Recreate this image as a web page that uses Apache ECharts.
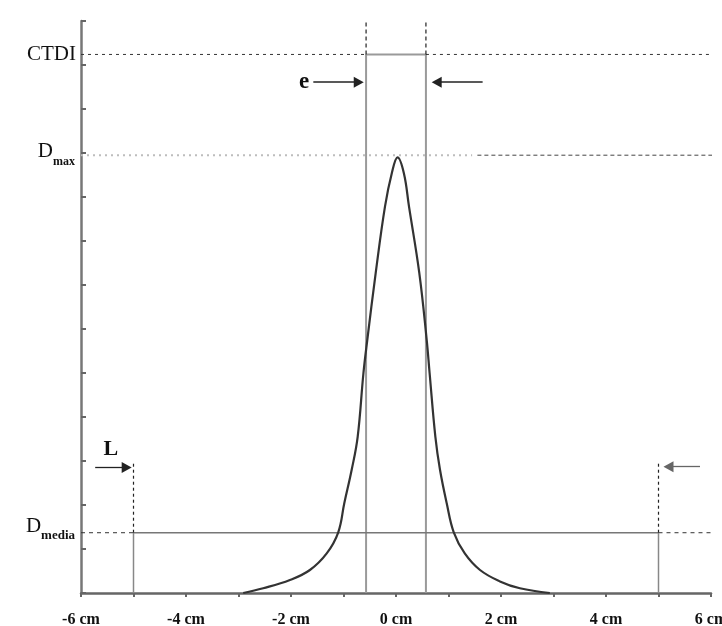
<!DOCTYPE html>
<html><head><meta charset="utf-8">
<script src="https://cdn.jsdelivr.net/npm/echarts@6/dist/echarts.min.js"></script>
<style>html,body{margin:0;padding:0;background:#fff;overflow:hidden}#c{width:722px;height:626px}</style>
</head><body><div id="c"></div>
<script>
// ---- data ----
const xTickLabels = {'-6':'-6 cm','-4':'-4 cm','-2':'-2 cm','0':'0 cm','2':'2 cm','4':'4 cm','6':'6 cm'};
const curveX = [-2.91,-2.53,-2.02,-1.64,-1.32,-1.10,-0.985,-0.844,-0.73,-0.62,-0.547,-0.387,-0.21,-0.08,0.03,0.15,0.248,0.444,0.585,0.64,0.75,0.838,0.966,1.10,1.31,1.60,1.98,2.36,2.93];
const curveY = [0,0.107,0.295,0.523,0.90,1.38,2.04,2.80,3.55,5.0,5.75,7.27,8.78,9.54,9.90,9.54,8.78,7.27,5.75,5.0,3.55,2.80,2.04,1.38,0.90,0.523,0.264,0.107,0];
const CTDI = 12.24, DMAX = 9.95, DMEDIA = 1.37;
const E_LEFT = -0.57, E_RIGHT = 0.57, E_TOP = 12.98;
const L_LEFT = -5, L_RIGHT = 5, L_TOP = 2.98;
const X_MIN = -6, X_EDGE = 6.25, DMEDIA_END = 6.05, DMAX_SPLIT = [1.45, 1.55];
const E_ARROW_Y = 11.61, E_LEFT_ARROW = [-1.575, -0.71], E_RIGHT_ARROW = [1.65, 0.775];
const L_LEFT_ARROW_Y = 2.85, L_RIGHT_ARROW_Y = 2.87, L_LEFT_ARROW = [-5.73, -5.13], L_RIGHT_ARROW = [5.79, 5.19];

const serif = '"Liberation Serif","DejaVu Serif",serif';
const curve = curveX.map((x, i) => [x, curveY[i]]);

function seg(points, color, width, type) {
  return {
    type: 'line', data: points, symbol: 'none', clip: false, silent: true, z: 2,
    lineStyle: { color: color, width: width, type: type || 'solid' }, animation: false
  };
}

const series = [
  // CTDI rectangle
  seg([[E_LEFT,0],[E_LEFT,CTDI],[E_RIGHT,CTDI],[E_RIGHT,0]], '#9a9a9a', 2),
  seg([[X_MIN,CTDI],[E_LEFT,CTDI]], '#333', 1, [3,4]),
  seg([[E_RIGHT,CTDI],[X_EDGE,CTDI]], '#333', 1, [3,4]),
  seg([[E_LEFT,CTDI],[E_LEFT,E_TOP]], '#222', 1.2, [4,3]),
  seg([[E_RIGHT,CTDI],[E_RIGHT,E_TOP]], '#222', 1.2, [4,3]),
  // Dmax
  seg([[X_MIN,DMAX],[DMAX_SPLIT[0],DMAX]], '#bdbdbd', 2, [2,4]),
  seg([[DMAX_SPLIT[1],DMAX],[X_EDGE,DMAX]], '#444', 1, [4,3]),
  // Dmedia
  seg([[X_MIN,DMEDIA],[L_LEFT,DMEDIA]], '#333', 1, [4,4]),
  seg([[L_LEFT,DMEDIA],[L_RIGHT,DMEDIA]], '#777', 1.5),
  seg([[L_RIGHT,DMEDIA],[DMEDIA_END,DMEDIA]], '#333', 1, [4,4]),
  // L verticals
  seg([[L_LEFT,0],[L_LEFT,DMEDIA]], '#888', 1.5),
  seg([[L_RIGHT,0],[L_RIGHT,DMEDIA]], '#888', 1.5),
  seg([[L_LEFT,DMEDIA],[L_LEFT,L_TOP]], '#222', 1.2, [3,3]),
  seg([[L_RIGHT,DMEDIA],[L_RIGHT,L_TOP]], '#222', 1.2, [3,3]),
  // curve with arrows and texts
  {
    type: 'line', data: curve, smooth: 0.4, symbol: 'none', z: 5, clip: false, animation: false,
    lineStyle: { color: '#333', width: 2.2 },
    markLine: {
      silent: true, symbol: ['none', 'triangle'], symbolSize: [11, 10], animation: false,
      label: { show: false },
      data: [
        [{ coord: [E_LEFT_ARROW[0], E_ARROW_Y], lineStyle: { color: '#222', width: 1.6, type: 'solid' } }, { coord: [E_LEFT_ARROW[1], E_ARROW_Y] }],
        [{ coord: [E_RIGHT_ARROW[0], E_ARROW_Y], lineStyle: { color: '#222', width: 1.6, type: 'solid' } }, { coord: [E_RIGHT_ARROW[1], E_ARROW_Y] }],
        [{ coord: [L_LEFT_ARROW[0], L_LEFT_ARROW_Y], lineStyle: { color: '#222', width: 1.3, type: 'solid' } }, { coord: [L_LEFT_ARROW[1], L_LEFT_ARROW_Y] }],
        [{ coord: [L_RIGHT_ARROW[0], L_RIGHT_ARROW_Y], lineStyle: { color: '#666', width: 1.3, type: 'solid' } }, { coord: [L_RIGHT_ARROW[1], L_RIGHT_ARROW_Y] }]
      ]
    },
    markPoint: {
      silent: true, symbol: 'circle', symbolSize: 0, animation: false,
      data: [
        { coord: [X_MIN, CTDI], label: { show: true, position: 'left', distance: 5, formatter: 'CTDI', color: '#111', fontFamily: serif, fontSize: 21 } },
        { coord: [X_MIN, DMAX], label: { show: true, position: 'left', distance: 6, offset: [0, -4], formatter: '{d|D}{s|max}', color: '#111',
            rich: { d: { fontFamily: serif, fontSize: 21, color: '#111', verticalAlign: 'middle' },
                    s: { fontFamily: serif, fontSize: 12, fontWeight: 'bold', color: '#111', verticalAlign: 'middle', padding: [22, 0, 0, 0] } } } },
        { coord: [X_MIN, DMEDIA], label: { show: true, position: 'left', distance: 6, offset: [0, -6], formatter: '{d|D}{s|media}', color: '#111',
            rich: { d: { fontFamily: serif, fontSize: 21, color: '#111', verticalAlign: 'middle' },
                    s: { fontFamily: serif, fontSize: 13, fontWeight: 'bold', color: '#111', verticalAlign: 'middle', padding: [17, 0, 0, 0] } } } },
        { coord: [E_LEFT_ARROW[0], E_ARROW_Y], label: { show: true, position: 'left', distance: 4, formatter: 'e', color: '#111', fontFamily: serif, fontSize: 23, fontWeight: 'bold' } },
        { coord: [(L_LEFT_ARROW[0] + L_LEFT_ARROW[1]) / 2, L_LEFT_ARROW_Y], label: { show: true, position: 'top', distance: 7, formatter: 'L', color: '#111', fontFamily: serif, fontSize: 22, fontWeight: 'bold' } }
      ]
    }
  }
];

const chart = echarts.init(document.getElementById('c'), null, { renderer: 'canvas' });
chart.setOption({
  animation: false,
  backgroundColor: '#fff',
  grid: { left: 81, right: 11, top: 21, bottom: 33, containLabel: false, outerBoundsMode: 'none' },
  xAxis: {
    type: 'value', min: -6, max: 6, interval: 1,
    axisLine: { onZero: false, lineStyle: { color: '#666', width: 2.5 } },
    axisTick: { show: true, length: 4, lineStyle: { color: '#666', width: 2 } },
    axisLabel: { margin: 19, color: '#111', fontFamily: serif, fontSize: 16, fontWeight: 'bold',
      formatter: v => xTickLabels[String(v)] || '' },
    splitLine: { show: false }
  },
  yAxis: {
    type: 'value', min: 0, max: 13, interval: 1,
    axisLine: { show: true, onZero: false, lineStyle: { color: '#777', width: 2.5 } },
    axisTick: { show: true, inside: true, length: 5, lineStyle: { color: '#666', width: 2 } },
    axisLabel: { show: false },
    splitLine: { show: false }
  },
  series: series
});
</script>
</body></html>
